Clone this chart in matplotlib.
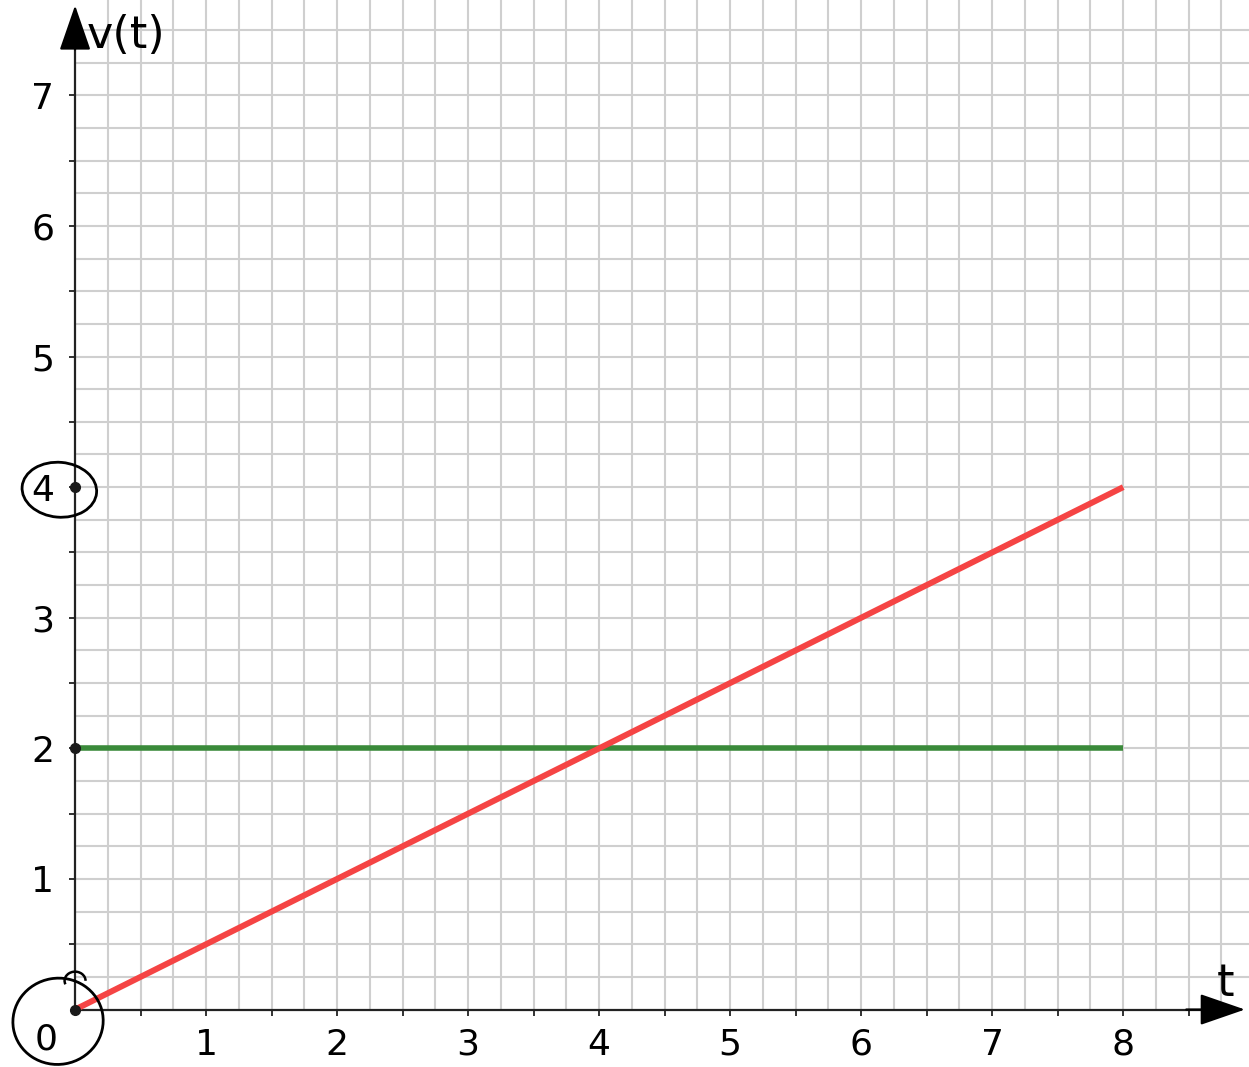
import numpy as np
import matplotlib
matplotlib.use("Agg")
import matplotlib.pyplot as plt
from matplotlib.patches import Ellipse, Arc

# data
t_red = [0, 8]
v_red = [0, 4]
t_green = [0, 8]
v_green = [2, 2]
marked_v = [0, 2, 4]          # dots drawn on the v axis
x_ticks = [1, 2, 3, 4, 5, 6, 7, 8]
y_ticks = [1, 2, 3, 4, 5, 6, 7]

xmin, xmax = -0.573, 8.96
ymin, ymax = -0.44, 7.73

fig = plt.figure(figsize=(12.49, 10.67), dpi=100)
ax = fig.add_axes([0, 0, 1, 1])
ax.set_xlim(xmin, xmax)
ax.set_ylim(ymin, ymax)

# grid paper only in the first quadrant
grid_step = 0.25
gx = np.arange(grid_step, xmax, grid_step)
gy = np.arange(grid_step, ymax, grid_step)
ax.vlines(gx, 0, ymax, color='#cfcfcf', lw=1.5, zorder=1)
ax.hlines(gy, 0, xmax, color='#cfcfcf', lw=1.5, zorder=1)

# axes through the origin
for s in ['top', 'right']:
    ax.spines[s].set_visible(False)
ax.spines['left'].set_position(('data', 0))
ax.spines['bottom'].set_position(('data', 0))
ax.spines['left'].set_bounds(0, ymax - 0.25)
ax.spines['bottom'].set_bounds(0, xmax - 0.3)
for s in ['left', 'bottom']:
    ax.spines[s].set_color('#222222')
    ax.spines[s].set_linewidth(1.6)

ax.annotate('', xy=(0, ymax - 0.02), xytext=(0, ymax - 0.4),
            arrowprops=dict(arrowstyle='-|>,head_length=1.3,head_width=0.45',
                            color='black', lw=1.6, mutation_scale=22))
ax.annotate('', xy=(xmax - 0.01, 0), xytext=(xmax - 0.5, 0),
            arrowprops=dict(arrowstyle='-|>,head_length=1.3,head_width=0.45',
                            color='black', lw=1.6, mutation_scale=22))

ax.set_xticks(x_ticks)
ax.set_yticks(y_ticks)
ax.set_xticks(np.arange(0.5, 8.6, 1), minor=True)
ax.set_yticks(np.arange(0.5, 7.6, 1), minor=True)
ax.tick_params(axis='both', which='both', direction='out', length=4,
               width=1.3, color='#222222', labelsize=26)
ax.tick_params(axis='x', pad=9)
ax.tick_params(axis='y', pad=11)
ax.text(-0.22, -0.23, '0', fontsize=26, ha='center', va='center')

ax.text(0.09, 7.46, 'v(t)', fontsize=32, ha='left', va='center')
ax.text(8.78, 0.2, 't', fontsize=32, ha='center', va='center')

# the two graphs
ax.plot(t_red, v_red, color='#f54444', lw=4.3, solid_capstyle='butt', zorder=3)
ax.plot(t_green, v_green, color='#3a8a3a', lw=4.0, solid_capstyle='butt', zorder=2)

# hand-drawn marks
ax.plot([0] * len(marked_v), marked_v, 'o', color='#1a1a1a', ms=7, zorder=5)
ax.add_patch(Ellipse((-0.13, -0.09), 0.69, 0.66, fill=False, ec='black',
                     lw=2.0, angle=10, zorder=6, clip_on=False))
ax.add_patch(Arc((0.0, 0.22), 0.16, 0.14, theta1=0, theta2=200,
                 ec='black', lw=1.8, zorder=6))
ax.add_patch(Ellipse((-0.12, 3.98), 0.57, 0.42, fill=False, ec='black',
                     lw=2.0, angle=-5, zorder=6))

fig.savefig('out.png', dpi=100)
